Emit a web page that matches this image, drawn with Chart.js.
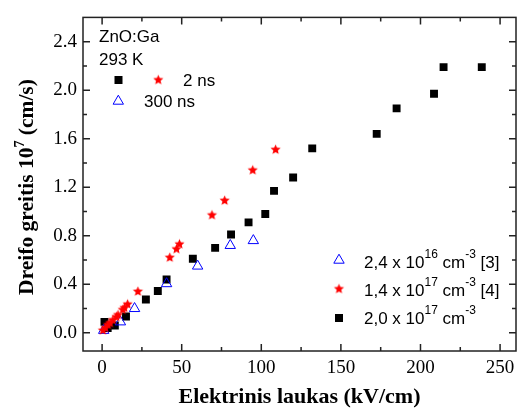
<!DOCTYPE html>
<html>
<head>
<meta charset="utf-8">
<script src="https://cdn.jsdelivr.net/npm/chart.js@4.4.1/dist/chart.umd.min.js"></script>
<style>
  body { margin: 0; background: #fff; }
  #wrap { width: 523px; height: 408px; }
</style>
</head>
<body>
<div id="wrap"><canvas id="chart" width="523" height="408"></canvas></div>
<script>
// tick labels
const xTicks = [0, 50, 100, 150, 200, 250];
const yTicks = [0, 0.4, 0.8, 1.2, 1.6, 2.0, 2.4];

// 2,0 x 10^17 cm^-3 (black squares)
const squares = [
  [1.5, 0.09], [3.5, 0.04], [8, 0.06], [15, 0.135], [27.5, 0.275], [35, 0.345],
  [40.5, 0.44], [57, 0.61], [71, 0.70], [81, 0.81], [92, 0.91], [102.5, 0.98],
  [108, 1.17], [120, 1.28], [132, 1.52], [172.5, 1.64], [185, 1.85],
  [208.5, 1.97], [214.5, 2.19], [238.5, 2.19]
];
// 1,4 x 10^17 cm^-3 [4] (red stars)
const stars = [
  [0.5, 0.02], [2, 0.04], [3.7, 0.065], [5, 0.08], [6.8, 0.105], [9, 0.13],
  [10, 0.147], [13, 0.19], [14, 0.205], [16, 0.235], [22.5, 0.34], [42.5, 0.62],
  [46.7, 0.69], [48.6, 0.73], [69, 0.97], [77, 1.09], [94.6, 1.34], [109, 1.51]
];
// 2,4 x 10^16 cm^-3 [3] (blue triangles)
const triangles = [
  [1, 0.02], [11.5, 0.09], [20.4, 0.2], [40.5, 0.405], [60, 0.55], [80.5, 0.72], [95, 0.76]
];

const SERIF = '"Liberation Serif", "Times New Roman", serif';
const SANS = '"Liberation Sans", Arial, sans-serif';

function makeStar(r) {
  const c = document.createElement('canvas');
  const s = Math.ceil(r * 2 + 2);
  c.width = s; c.height = s;
  const g = c.getContext('2d');
  g.fillStyle = '#ff0000';
  g.beginPath();
  for (let i = 0; i < 10; i++) {
    const rr = i % 2 ? r * 0.45 : r;
    const a = -Math.PI / 2 + i * Math.PI / 5;
    g.lineTo(s / 2 + rr * Math.cos(a), s / 2 + rr * Math.sin(a));
  }
  g.closePath();
  g.fill();
  return c;
}
const starImg = makeStar(5.3);

function drawTri(ctx, x, y, r) {
  ctx.beginPath();
  for (let i = 0; i < 3; i++) {
    const a = i * 2 * Math.PI / 3;
    ctx.lineTo(x + Math.sin(a) * r, y - Math.cos(a) * r + r * 0.2);
  }
  ctx.closePath();
  ctx.stroke();
}

// superscript text runs: [text, isSup]
function drawRuns(ctx, runs, x, y) {
  for (const [t, sup] of runs) {
    ctx.font = sup ? '12px ' + SANS : '17px ' + SANS;
    ctx.fillText(t, x, sup ? y - 8 : y);
    x += ctx.measureText(t).width;
  }
}

const decor = {
  id: 'decor',
  afterDatasetsDraw(chart) {
    const { ctx, chartArea: a, scales: { x, y } } = chart;
    ctx.save();
    ctx.strokeStyle = '#222';
    ctx.lineWidth = 1.5;
    ctx.strokeRect(a.left, a.top, a.right - a.left, a.bottom - a.top);

    // inward ticks, major + minor on all four sides
    const xs = [], ys = [];
    xTicks.forEach(t => { xs.push([t, 7]); xs.push([t + 25, 4]); });
    yTicks.forEach(t => { ys.push([t, 7]); ys.push([t + 0.2, 4]); });
    ctx.beginPath();
    xs.forEach(([v, len]) => {
      const px = x.getPixelForValue(v);
      if (px <= a.left || px >= a.right) return;
      ctx.moveTo(px, a.bottom); ctx.lineTo(px, a.bottom - len);
      ctx.moveTo(px, a.top); ctx.lineTo(px, a.top + len);
    });
    ys.forEach(([v, len]) => {
      const py = y.getPixelForValue(v);
      if (py <= a.top || py >= a.bottom) return;
      ctx.moveTo(a.left, py); ctx.lineTo(a.left + len, py);
      ctx.moveTo(a.right, py); ctx.lineTo(a.right - len, py);
    });
    ctx.stroke();

    // axis titles
    ctx.fillStyle = '#000';
    ctx.textBaseline = 'alphabetic';
    ctx.font = 'bold 22px ' + SERIF;
    ctx.textAlign = 'center';
    ctx.fillText('Elektrinis laukas (kV/cm)', (a.left + a.right) / 2, 403);

    ctx.save();
    ctx.translate(33, 187);
    ctx.rotate(-Math.PI / 2);
    ctx.textAlign = 'left';
    const p1 = 'Dreifo greitis 10', p2 = '7', p3 = ' (cm/s)';
    const big = 'bold 21.5px ' + SERIF, small = 'bold 14px ' + SERIF;
    ctx.font = big;
    const w1 = ctx.measureText(p1).width, w3 = ctx.measureText(p3).width;
    ctx.font = small;
    const w2 = ctx.measureText(p2).width;
    let sx = -(w1 + w2 + w3) / 2;
    ctx.font = big;
    ctx.fillText(p1, sx, 0); sx += w1;
    ctx.font = small;
    ctx.fillText(p2, sx, -9); sx += w2;
    ctx.font = big;
    ctx.fillText(p3, sx, 0);
    ctx.restore();

    // legends
    ctx.textAlign = 'left';
    ctx.textBaseline = 'middle';
    ctx.font = '17px ' + SANS;
    ctx.fillText('ZnO:Ga', 99, 37);
    ctx.fillText('293 K', 99, 60);
    ctx.fillStyle = '#000';
    ctx.fillRect(114.5, 76, 8, 8);
    ctx.drawImage(starImg, 158.3 - starImg.width / 2, 80 - starImg.height / 2);
    ctx.fillText('2 ns', 183, 81);
    ctx.strokeStyle = '#0000ff';
    ctx.lineWidth = 1;
    drawTri(ctx, 118.3, 100, 6);
    ctx.fillStyle = '#000';
    ctx.fillText('300 ns', 144, 102);

    ctx.strokeStyle = '#0000ff';
    drawTri(ctx, 339, 259, 6);
    drawRuns(ctx, [['2,4 x 10', 0], ['16', 1], [' cm', 0], ['-3', 1], [' [3]', 0]], 364, 263);
    ctx.drawImage(starImg, 339 - starImg.width / 2, 289 - starImg.height / 2);
    drawRuns(ctx, [['1,4 x 10', 0], ['17', 1], [' cm', 0], ['-3', 1], [' [4]', 0]], 364, 291);
    ctx.fillRect(335, 314, 8, 8);
    drawRuns(ctx, [['2,0 x 10', 0], ['17', 1], [' cm', 0], ['-3', 1]], 364, 319);
    ctx.restore();
  }
};

const toXY = arr => arr.map(([x, y]) => ({ x, y }));

new Chart(document.getElementById('chart'), {
  type: 'scatter',
  data: {
    datasets: [
      {
        label: '1,4 x 10^17 cm^-3 [4]',
        data: toXY(stars),
        pointStyle: starImg,
        pointRadius: 5
      },
      {
        label: '2,4 x 10^16 cm^-3 [3]',
        data: toXY(triangles),
        pointStyle: 'triangle',
        pointRadius: 6,
        borderColor: '#0000ff',
        backgroundColor: 'rgba(0,0,0,0)',
        borderWidth: 1
      },
      {
        label: '2,0 x 10^17 cm^-3',
        data: toXY(squares),
        pointStyle: 'rect',
        pointRadius: 5.6,
        borderColor: '#000',
        backgroundColor: '#000',
        borderWidth: 0
      }
    ]
  },
  options: {
    responsive: false,
    animation: false,
    layout: { padding: { top: 15, right: 1, left: 0, bottom: 0 } },
    plugins: { legend: { display: false }, tooltip: { enabled: false } },
    scales: {
      x: {
        type: 'linear',
        min: -12,
        max: 260,
        grid: { display: false, drawTicks: false },
        border: { display: false },
        afterBuildTicks: s => { s.ticks = xTicks.map(v => ({ value: v })); },
        afterFit: s => { s.height = 57; },
        ticks: {
          padding: 6,
          color: '#000',
          font: { family: SERIF, size: 19 },
          callback: v => String(v)
        }
      },
      y: {
        type: 'linear',
        min: -0.15,
        max: 2.6,
        grid: { display: false, drawTicks: false },
        border: { display: false },
        afterBuildTicks: s => { s.ticks = yTicks.map(v => ({ value: v })); },
        afterFit: s => { s.width = 83; },
        ticks: {
          padding: 6,
          color: '#000',
          font: { family: SERIF, size: 19 },
          callback: v => v.toFixed(1)
        }
      }
    }
  },
  plugins: [decor]
});
</script>
</body>
</html>
